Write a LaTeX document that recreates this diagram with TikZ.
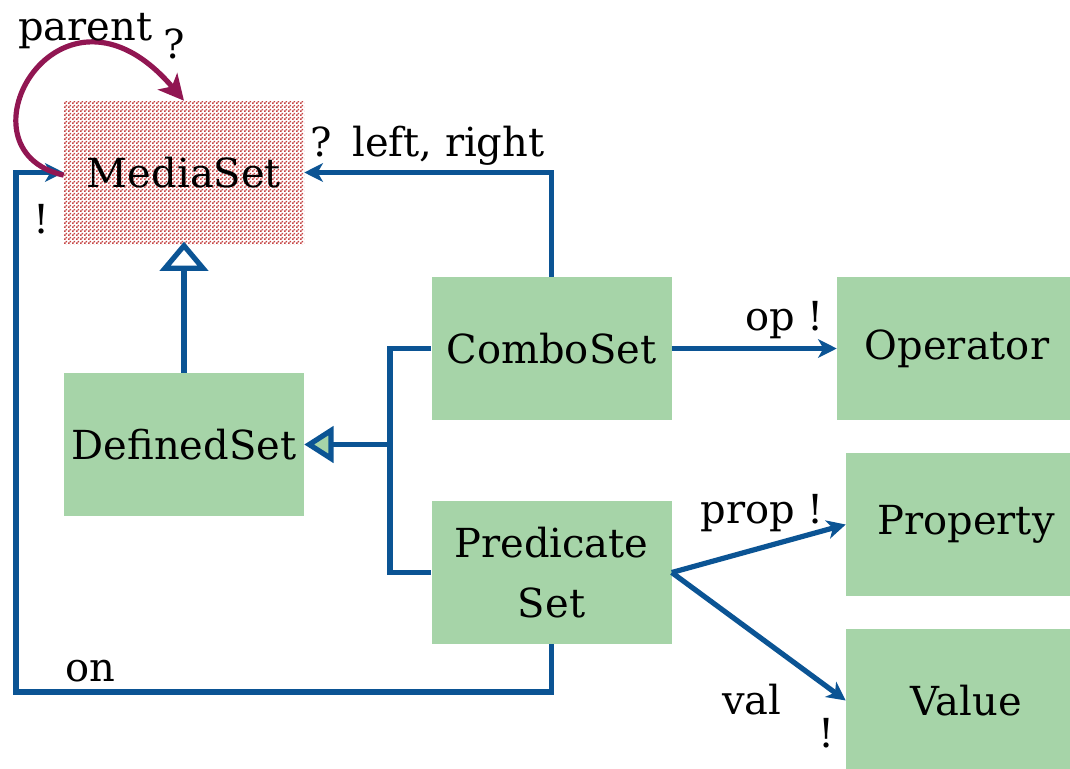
\documentclass[tikz,border=0pt]{standalone}
\usepackage{fontspec}
\setmainfont{DejaVu Serif}
\usetikzlibrary{arrows.meta,patterns}

\pgfdeclarepatternformonly{finechecker}{\pgfpointorigin}{\pgfqpoint{3pt}{3pt}}{\pgfqpoint{3pt}{3pt}}{%
  \pgfpathrectangle{\pgfpointorigin}{\pgfqpoint{1.5pt}{1.5pt}}%
  \pgfpathrectangle{\pgfqpoint{1.5pt}{1.5pt}}{\pgfqpoint{1.5pt}{1.5pt}}%
  \pgfusepath{fill}}

\definecolor{linkblue}{RGB}{11,84,148}
\definecolor{loopred}{RGB}{145,22,82}
\definecolor{boxgreen}{RGB}{166,212,168}
\definecolor{checkred}{RGB}{196,66,66}

\tikzset{
  cls/.style={fill=boxgreen, minimum width=180pt, minimum height=107.25pt, inner sep=0pt, align=center, font=\fontsize{30}{45}\selectfont},
  lbl/.style={anchor=base west, inner sep=0pt, font=\fontsize{30}{40}\selectfont},
  link/.style={draw=linkblue, line width=3.9pt, -{Stealth[length=14pt,width=14pt,inset=4pt]}},
  plain/.style={draw=linkblue, line width=3.9pt},
  genup/.style={draw=linkblue, line width=3.9pt, -{Triangle[open,length=22pt,width=36pt,fill=white]}},
  genleft/.style={draw=linkblue, line width=3.9pt, -{Triangle[open,length=22pt,width=27pt,fill=boxgreen]}},
}

\begin{document}
\begin{tikzpicture}[x=0.75pt,y=0.75pt,yscale=-1,xscale=1]
	\useasboundingbox (0,0) rectangle (1070,768);

	% Class nodes
	\node [cls, fill=none, pattern=finechecker, pattern color=checkred] (ms) at (184,172.5) {MediaSet};
	\node [cls] (ds) at (184,444.5) {DefinedSet};
	\node [cls] (cs) at (551.5,348.5) {ComboSet};
	\node [cls] (ps) at (551.5,572.5) {Predicate\\Set};
	\node [cls] (op) at (957,348.5) {Operator};
	\node [cls] (pr) at (966,524.5) {Property};
	\node [cls] (va) at (966,700.5) {Value};

	% Corner points
	\coordinate (fork) at (390,444.5);
	\coordinate (onlow) at (16,692);

	% Connection
	\draw [link] (cs.north) |- (ms.east);
	% Connection
	\draw [link] (ps.south) |- (onlow) |- (ms.west);
	% Connection
	\draw [genup] (ds.north) -- ([yshift=-2pt]ms.south);
	% Connection
	\draw [plain] (cs.west) -| (fork) |- (ps.west);
	% Connection
	\draw [genleft] (fork) -- (ds.east);
	% Connection
	\draw [link] (cs.east) -- (op.west);
	% Connection
	\draw [link] (ps.east) -- (pr.west);
	% Connection
	\draw [link] (ps.east) -- (va.west);
	% Connection
	\draw [loopred, line width=3.9pt, -{Stealth[length=19pt,width=19pt,inset=5pt]}] ([yshift=2pt]ms.west) .. controls (-50,150) and (60,-45) .. (ms.north);

	% Text Node
	\node [lbl] (lparent) at (18,40) {parent};
	\node [lbl] (qparent) at (163,58) {?};
	\node [lbl] (qleft) at (310,156) {?};
	\node [lbl] (lleft) at (352,156) {left, right};
	\node [lbl] (xon) at (33,233) {!};
	\node [lbl] (lon) at (65,681) {on};
	\node [lbl, anchor=base east] (lop) at (824,330) {op !};
	\node [lbl, anchor=base east] (lprop) at (824,523) {prop !};
	\node [lbl] (lval) at (722,714) {val};
	\node [lbl] (xval) at (818,747) {!};

\end{tikzpicture}
\end{document}
